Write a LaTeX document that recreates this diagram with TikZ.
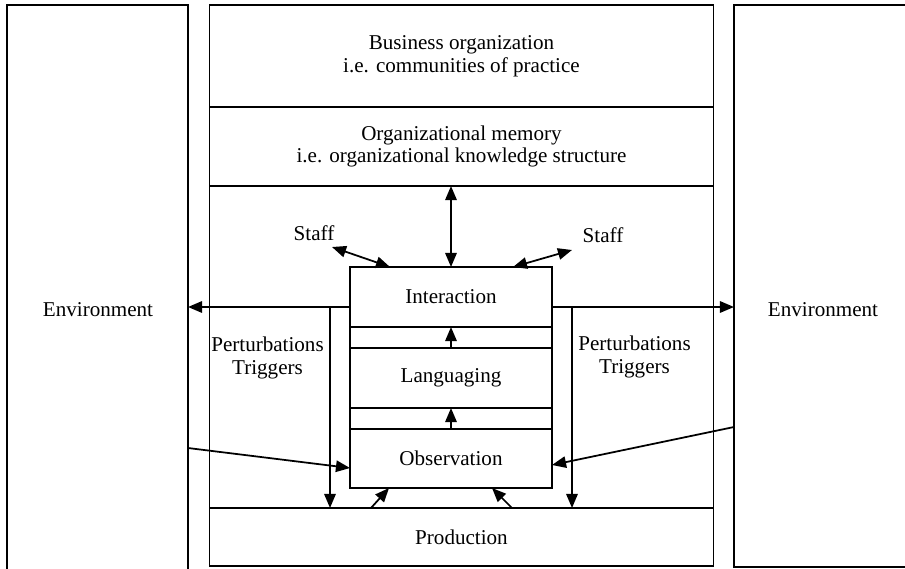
\documentclass[tikz,border=0pt]{standalone}
\usepackage{fontspec}
\setmainfont{Liberation Serif}
\usetikzlibrary{arrows.meta,positioning}

\tikzset{
  box/.style={draw,rectangle,inner sep=0pt,outer sep=0pt,align=center},
  arr/.style={-{Triangle[length=8pt,width=6.5pt]}},
  dbl/.style={{Triangle[length=8pt,width=6.5pt]}-{Triangle[length=8pt,width=6.5pt]}},
}

\begin{document}
\begin{tikzpicture}[line width=1pt,font=\fontsize{12pt}{13pt}\selectfont]
    \useasboundingbox (0,0) rectangle (18.1,11.36);
    % outer columns
    \node[box,minimum width=3.62cm,minimum height=11.3cm] (envL) at (1.95,5.61) {};
    \node[box,minimum width=3.8cm,minimum height=11.24cm] (envR) at (16.58,5.64) {};
    \node (envLt) at (1.96,5.16) {Environment};
    \node (envRt) at (16.46,5.16) {Environment};
    % middle column
    \node[box,minimum width=10.08cm,minimum height=2.04cm] (biz) at (9.23,10.24)
      {Business organization\\i.e. communities of practice};
    \node[box,minimum width=10.08cm,minimum height=1.58cm,below=0pt of biz] (mem)
      {Organizational memory\\i.e. organizational knowledge structure};
    \node[box,minimum width=10.08cm,minimum height=1.16cm] (prod) at (9.23,0.62) {Production};
    \draw (mem.south west) -- (prod.north west);
    \draw (mem.south east) -- (prod.north east);
    % the stack
    \node[box,minimum width=4.04cm,minimum height=1.2cm] (inter) at (9.02,5.42) {Interaction};
    \node[box,minimum width=4.04cm,minimum height=1.2cm,below=0.42cm of inter] (lang) {Languaging};
    \node[box,minimum width=4.04cm,minimum height=1.18cm,below=0.42cm of lang] (obs) {Observation};
    \draw (inter.south west) -- (obs.north west);
    \draw (inter.south east) -- (obs.north east);
    \draw[arr] (lang.north) -- (inter.south);
    \draw[arr] (obs.north) -- (lang.south);
    \draw[dbl] (inter.north |- mem.south) -- (inter.north);
    % staff
    \node (staffL) at (6.28,6.7) {Staff};
    \node (staffR) at (12.06,6.66) {Staff};
    \coordinate (sl) at (6.64,6.42);
    \coordinate (sr) at (11.44,6.36);
    \draw[dbl] (sl) -- ([shift={(0.8,0)}]inter.north west);
    \draw[dbl] ([shift={(-0.78,0)}]inter.north east) -- (sr);
    % out to the environment
    \coordinate (lvl) at (0,5.22);
    \draw[arr] (inter.west |- lvl) -- (envL.east |- lvl);
    \draw[arr] (inter.east |- lvl) -- (envR.west |- lvl);
    \coordinate (pl) at (6.6,0);
    \coordinate (pr) at (11.44,0);
    \draw[arr] (pl |- lvl) -- (pl |- prod.north);
    \draw[arr] (pr |- lvl) -- (pr |- prod.north);
    \node[align=center] (pertL) at (5.35,4.2) {Perturbations\\Triggers};
    \node[align=center] (pertR) at (12.69,4.22) {Perturbations\\Triggers};
    % back in to observation
    \draw[arr] (envL.east |- 0,2.4) -- ([shift={(0,-0.19)}]obs.west);
    \draw[arr] (envR.west |- 0,2.82) -- ([shift={(0,-0.13)}]obs.east);
    \draw[arr] (prod.north -| 7.42,0) -- ([shift={(0.78,0)}]obs.south west);
    \draw[arr] (prod.north -| 10.24,0) -- ([shift={(-1.2,0)}]obs.south east);
\end{tikzpicture}
\end{document}
